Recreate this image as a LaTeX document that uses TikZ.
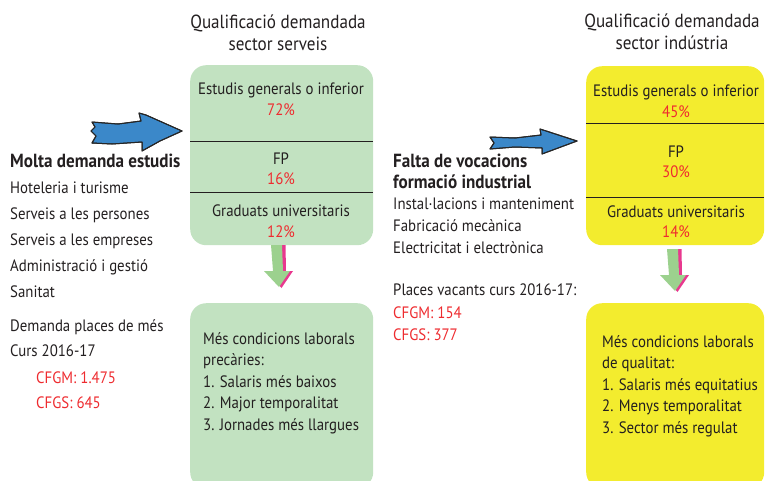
\documentclass[tikz,border=0pt]{standalone}
\usepackage{fontspec}
\setmainfont[FakeStretch=0.9]{PT Sans}

\definecolor{verdclar}{HTML}{C2E2C1}
\definecolor{groc}{HTML}{F3EC2E}
\definecolor{vermell}{HTML}{EE2B2F}
\definecolor{blauflet}{HTML}{3B88C9}
\definecolor{rosaflet}{HTML}{E8388F}
\definecolor{verdflet}{HTML}{9CD18E}
\definecolor{textfosc}{HTML}{231F20}

\tikzset{
  caixa/.style={rounded corners=16pt, inner sep=0pt, minimum width=183pt, anchor=north west},
  caixagroga/.style={caixa, fill=groc, minimum width=178pt},
  caixaverda/.style={caixa, fill=verdclar},
  divisio/.style={line width=1pt, textfosc},
  lletra/.style={text=textfosc, inner sep=0pt, font=\fontsize{16.5}{21.6}\selectfont},
  gran/.style={font=\fontsize{19}{21.5}\selectfont\bfseries},
  etiq/.style={lletra, text height=12pt, text depth=3.5pt},
  pct/.style={etiq, text=vermell},
  llista/.style={lletra, align=left, anchor=north west},
  fletxablava/.style={fill=blauflet, draw=black!85, line width=1pt, line join=round},
  fletxavall/.pic={
    \fill[rosaflet] (-3.5,0) -- (8.5,0) -- (9,26) -- (16,26) -- (4.5,43) -- (-10,26) -- (-1.5,26) -- cycle;
    \fill[verdflet] (-6,0) -- (5,0) -- (6,26) -- (13,26) -- (2,42) -- (-13,26) -- (-4,26) -- cycle;
  }
}

\begin{document}
\begin{tikzpicture}[x=1pt, y=-1pt]

  %% titols
  \node[lletra, align=center, anchor=north, font=\fontsize{19}{21.5}\selectfont] (tserv) at (278,15) {Qualificació demandada\\sector serveis};
  \node[lletra, align=center, anchor=north, font=\fontsize{19}{21.5}\selectfont] (tind) at (672,14) {Qualificació demandada\\sector indústria};

  %% caixes de dalt
  \node[caixaverda, minimum height=180pt] (serveis) at (190,65) {};
  \node[caixagroga, minimum height=179pt] (industria) at (586,66) {};
  \draw[divisio] (serveis.west |- 0,141) -- (serveis.east |- 0,141);
  \draw[divisio] (serveis.west |- 0,192) -- (serveis.east |- 0,192);
  \draw[divisio] (industria.west |- 0,123) -- (industria.east |- 0,123);
  \draw[divisio] (industria.west |- 0,197) -- (industria.east |- 0,197);

  \node[etiq] (s1) at (281,90) {Estudis generals o inferior};
  \node[pct] (s1p) at (281,111) {72\%};
  \node[etiq] (s2) at (281,160) {FP};
  \node[pct] (s2p) at (281,180) {16\%};
  \node[etiq] (s3) at (281,212) {Graduats universitaris};
  \node[pct] (s3p) at (281,233) {12\%};

  \node[etiq] (i1) at (676,92) {Estudis generals o inferior};
  \node[pct] (i1p) at (676,113) {45\%};
  \node[etiq] (i2) at (676,153) {FP};
  \node[pct] (i2p) at (676,173) {30\%};
  \node[etiq] (i3) at (676,213) {Graduats universitaris};
  \node[pct] (i3p) at (676,233) {14\%};

  %% caixes de baix (tallades pel marge)
  \node[caixaverda, minimum height=185pt] (condserv) at (190,303) {};
  \node[caixagroga, minimum height=185pt] (condind) at (586,303) {};
  \node[llista] (tcs) at (203,332) {Més condicions laborals\\precàries:\\1. Salaris més baixos\\2. Major temporalitat\\3. Jornades més llargues};
  \node[llista] (tci) at (602,335) {Més condicions laborals\\de qualitat:\\1. Salaris més equitatius\\2. Menys temporalitat\\3. Sector més regulat};

  %% fletxes avall
  \pic at (277,245) {fletxavall};
  \pic at (673,249) {fletxavall};

  %% columna esquerra
  \fill[fletxablava] (92,122) -- (118,124) -- (141,121) -- (139,113) -- (146,115) -- (182,131)
    -- (160,141) -- (142,151) -- (142,142) -- (112,144) -- (92,143) -- (96,136) -- (91,131) -- (95,127) -- cycle;
  \draw[fletxablava, fill=none] (92,122) -- (118,124) -- (141,121) -- (139,113) -- (146,115) -- (182,131)
    -- (160,141) -- (142,151) -- (142,142) -- (112,144) -- (92,143) -- (96,136) -- (91,131) -- (95,127) -- cycle;
  \node[llista, gran] (molta) at (10,154) {Molta demanda estudis};
  \node[llista, font=\fontsize{16.5}{26}\selectfont] (estudis) at (10,182)
    {Hoteleria i turisme\\Serveis a les persones\\Serveis a les empreses\\Administració i gestió\\Sanitat};
  \node[llista, font=\fontsize{16.5}{25.7}\selectfont] (places) at (10,319) {Demanda places de més\\Curs 2016-17};
  \node[llista, text=vermell, font=\fontsize{16.5}{25}\selectfont] (cfgm1) at (36,371.5) {CFGM: 1.475\\CFGS: 645};

  %% columna del mig
  \fill[fletxablava] (490,137) -- (515,138) -- (541,135) -- (540,129) -- (577,141)
    -- (542,154) -- (542,148) -- (515,147) -- (490,149) -- (494,143) -- cycle;
  \draw[fletxablava, fill=none] (490,137) -- (515,138) -- (541,135) -- (540,129) -- (577,141)
    -- (542,154) -- (542,148) -- (515,147) -- (490,149) -- (494,143) -- cycle;
  \node[llista, gran] (vocacions) at (393,153.5) {Falta de vocacions\\formació industrial};
  \node[llista] (sectors) at (393,198) {Instal·lacions i manteniment\\Fabricació mecànica\\Electricitat i electrònica};
  \node[llista] (vacants) at (393,284) {Places vacants curs 2016-17:};
  \node[llista, text=vermell] (cfgm2) at (393,306.5) {CFGM: 154\\CFGS: 377};

  \pgfresetboundingbox
  \path[use as bounding box] (0,0) rectangle (765,480);
\end{tikzpicture}
\end{document}
